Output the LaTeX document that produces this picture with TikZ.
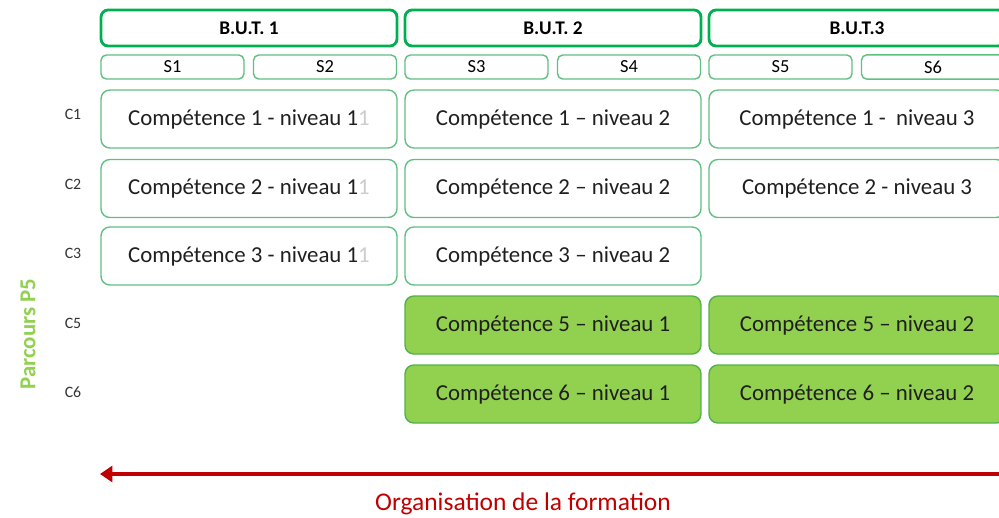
\documentclass[tikz,border=0pt]{standalone}
\usepackage{fontspec}
\setmainfont{Carlito}
\usetikzlibrary{arrows.meta}

\definecolor{vertfonce}{RGB}{0,176,80}
\definecolor{vertclair}{RGB}{95,192,128}
\definecolor{vertp}{RGB}{146,208,80}
\definecolor{vertbord}{RGB}{80,178,72}
\definecolor{rouge}{RGB}{192,0,0}

\begin{document}
\begin{tikzpicture}[x=0.02cm, y=-0.02cm,
                    but/.style={draw=vertfonce, line width=1.6pt, rounded corners=4pt,
                                minimum width=5.92cm, minimum height=0.72cm, font=\fontsize{11}{13}\selectfont\bfseries},
                    sem/.style={draw=vertclair, line width=0.8pt, rounded corners=3pt,
                                minimum width=2.86cm, minimum height=0.48cm, font=\fontsize{10.5}{12}\selectfont},
                    comp/.style={draw=vertclair, line width=0.8pt, rounded corners=5pt, text=black!88,
                                 minimum width=5.92cm, minimum height=1.16cm, font=\fontsize{13}{15}\selectfont},
                    compP/.style={comp, draw=vertbord, fill=vertp},
                    lbl/.style={font=\fontsize{9}{11}\selectfont, text=black!80},
                    arrow/.style={-{Triangle[length=7pt, width=9pt]}}]

\useasboundingbox (0,0) rectangle (999,517);
\clip (0,0) rectangle (999,517);

% Annees
\node[but] (B1) at (249,28) {B.U.T. 1};
\node[but] (B2) at (553,28) {B.U.T. 2};
\node[but] (B3) at (857,28) {B.U.T.3};

% Semestres
\foreach \i/\x in {1/172.5, 2/325, 3/476.5, 4/629, 5/780.5, 6/933} {
    \node[sem] (S\i) at (\x,67) {S\i};
}

% Lignes des competences
\foreach \c/\y in {1/114, 2/184, 3/253, 5/323, 6/392} {
    \node[lbl] (L\c) at (73,\y) {C\c};
}

% B.U.T. 1
\node[comp] (C11) at (249,119) {Compétence 1 - niveau 1\textcolor{black!20}{1}};
\node[comp] (C21) at (249,188.5) {Compétence 2 - niveau 1\textcolor{black!20}{1}};
\node[comp] (C31) at (249,256) {Compétence 3 - niveau 1\textcolor{black!20}{1}};

% B.U.T. 2
\node[comp] (C12) at (553,119) {Compétence 1 – niveau 2};
\node[comp] (C22) at (553,188.5) {Compétence 2 – niveau 2};
\node[comp] (C32) at (553,256) {Compétence 3 – niveau 2};
\node[compP] (C52) at (553,325) {Compétence 5 – niveau 1};
\node[compP] (C62) at (553,394) {Compétence 6 – niveau 1};

% B.U.T. 3
\node[comp] (C13) at (857,119) {Compétence 1 - \ niveau 3};
\node[comp] (C23) at (857,188.5) {Compétence 2 - niveau 3};
\node[compP] (C53) at (857,325) {Compétence 5 – niveau 2};
\node[compP] (C63) at (857,394) {Compétence 6 – niveau 2};

% Parcours
\node[rotate=90, text=vertp, font=\fontsize{13}{15}\selectfont\bfseries] (P5) at (28,334) {Parcours P5};

% Fleche du temps
\coordinate (fin) at (1002,474);
\coordinate (debut) at (100,474);
\draw[arrow, rouge, line width=2.2pt] (fin) -- (debut);
\node[text=rouge, font=\fontsize{14.5}{17}\selectfont] (orga) at (523,504) {Organisation de la formation};

\end{tikzpicture}
\end{document}
